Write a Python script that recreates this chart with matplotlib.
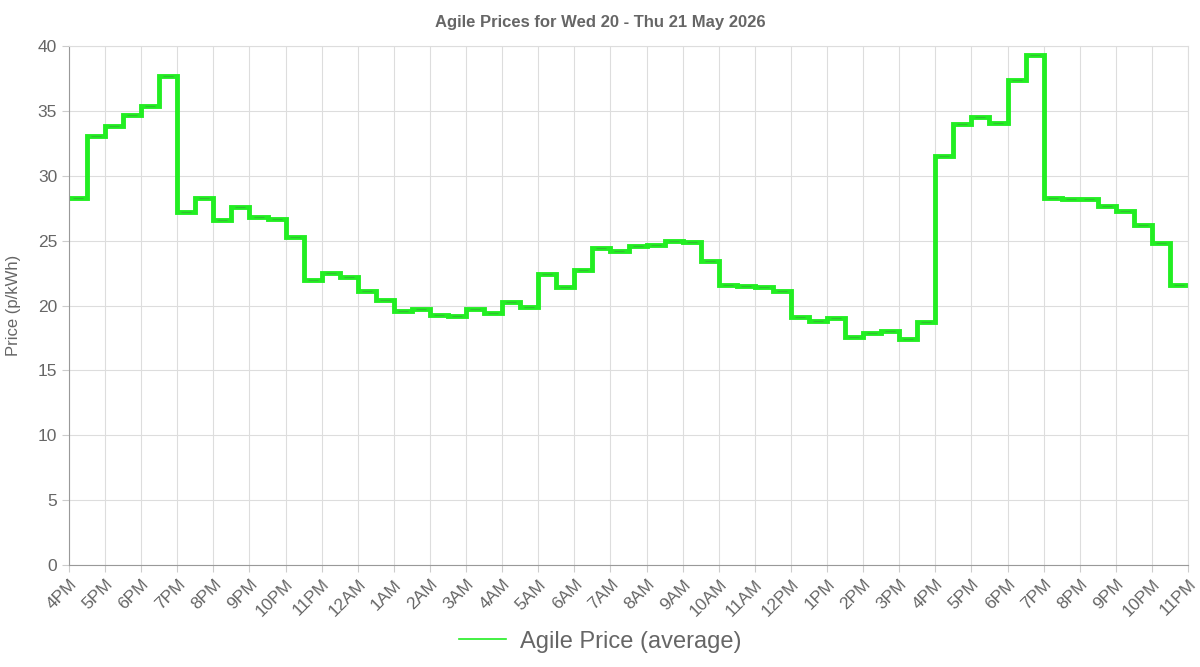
import matplotlib
matplotlib.use('Agg')
import numpy as np
import matplotlib.pyplot as plt
from matplotlib.lines import Line2D

# half-hourly prices from 4PM Wed to 10:30PM Thu
prices = [28.3, 33.1, 33.8, 34.7, 35.4, 37.7, 27.2, 28.3, 26.6, 27.6,
          26.8, 26.7, 25.3, 22.0, 22.5, 22.2, 21.1, 20.4, 19.6, 19.7,
          19.3, 19.2, 19.7, 19.4, 20.3, 19.9, 22.4, 21.4, 22.7, 24.4,
          24.2, 24.6, 24.7, 25.0, 24.9, 23.4, 21.6, 21.5, 21.4, 21.1,
          19.1, 18.8, 19.0, 17.6, 17.9, 18.0, 17.4, 18.7, 31.5, 34.0,
          34.5, 34.1, 37.4, 39.3, 28.3, 28.2, 28.2, 27.7, 27.3, 26.2,
          24.8, 21.6]
hour_labels = ['4PM', '5PM', '6PM', '7PM', '8PM', '9PM', '10PM', '11PM',
               '12AM', '1AM', '2AM', '3AM', '4AM', '5AM', '6AM', '7AM',
               '8AM', '9AM', '10AM', '11AM', '12PM', '1PM', '2PM', '3PM',
               '4PM', '5PM', '6PM', '7PM', '8PM', '9PM', '10PM', '11PM']

GREEN = '#22ee22'
GREY = '#666666'

fig = plt.figure(figsize=(12, 6.67), dpi=100)
ax = fig.add_axes([69/1200, 1 - 565/667, (1188 - 69)/1200, (565 - 46)/667])

x = np.arange(len(prices)) * 0.5
xs = np.append(x, x[-1] + 0.5)
ys = np.append(prices, prices[-1])
ax.step(xs, ys, where='post', color=GREEN, lw=3.5, solid_joinstyle='miter')
ax.plot(x + 0.25, prices, ls='none', marker='_', ms=7, mew=0.8, color='#33bb33')

ax.set_xlim(0, 31)
ax.set_ylim(0, 40)
ax.set_xticks(np.arange(32))
ax.set_xticklabels(hour_labels, rotation=45, ha='right', rotation_mode='anchor',
                   fontsize=12.5, color=GREY, fontfamily='Liberation Sans')
ax.set_yticks(np.arange(0, 41, 5))
ax.tick_params(axis='y', labelsize=12.5, colors=GREY)
for lab in ax.get_yticklabels():
    lab.set_fontfamily('Liberation Sans')
ax.tick_params(length=5, color='#cccccc')
ax.grid(True, color='#dddddd', lw=0.8)
for s in ax.spines.values():
    s.set_color('#dddddd')
ax.spines['left'].set_color('#999999')
ax.spines['bottom'].set_color('#999999')
ax.set_ylabel('Price (p/kWh)', fontsize=12, color=GREY, fontfamily='Liberation Sans',
              labelpad=12)

fig.text(0.5, 0.967, 'Agile Prices for Wed 20 - Thu 21 May 2026', ha='center', va='center',
         fontsize=12, fontweight='bold', color=GREY, fontfamily='Liberation Sans')
fig.legend(handles=[Line2D([], [], color=GREEN, lw=1.2)], labels=['Agile Price (average)'],
           loc='center', bbox_to_anchor=(0.5, 0.038), frameon=False,
           prop={'family': 'Liberation Sans', 'size': 17}, labelcolor=GREY,
           handlelength=2.0, handletextpad=0.6)

fig.savefig('out.png', dpi=100)
